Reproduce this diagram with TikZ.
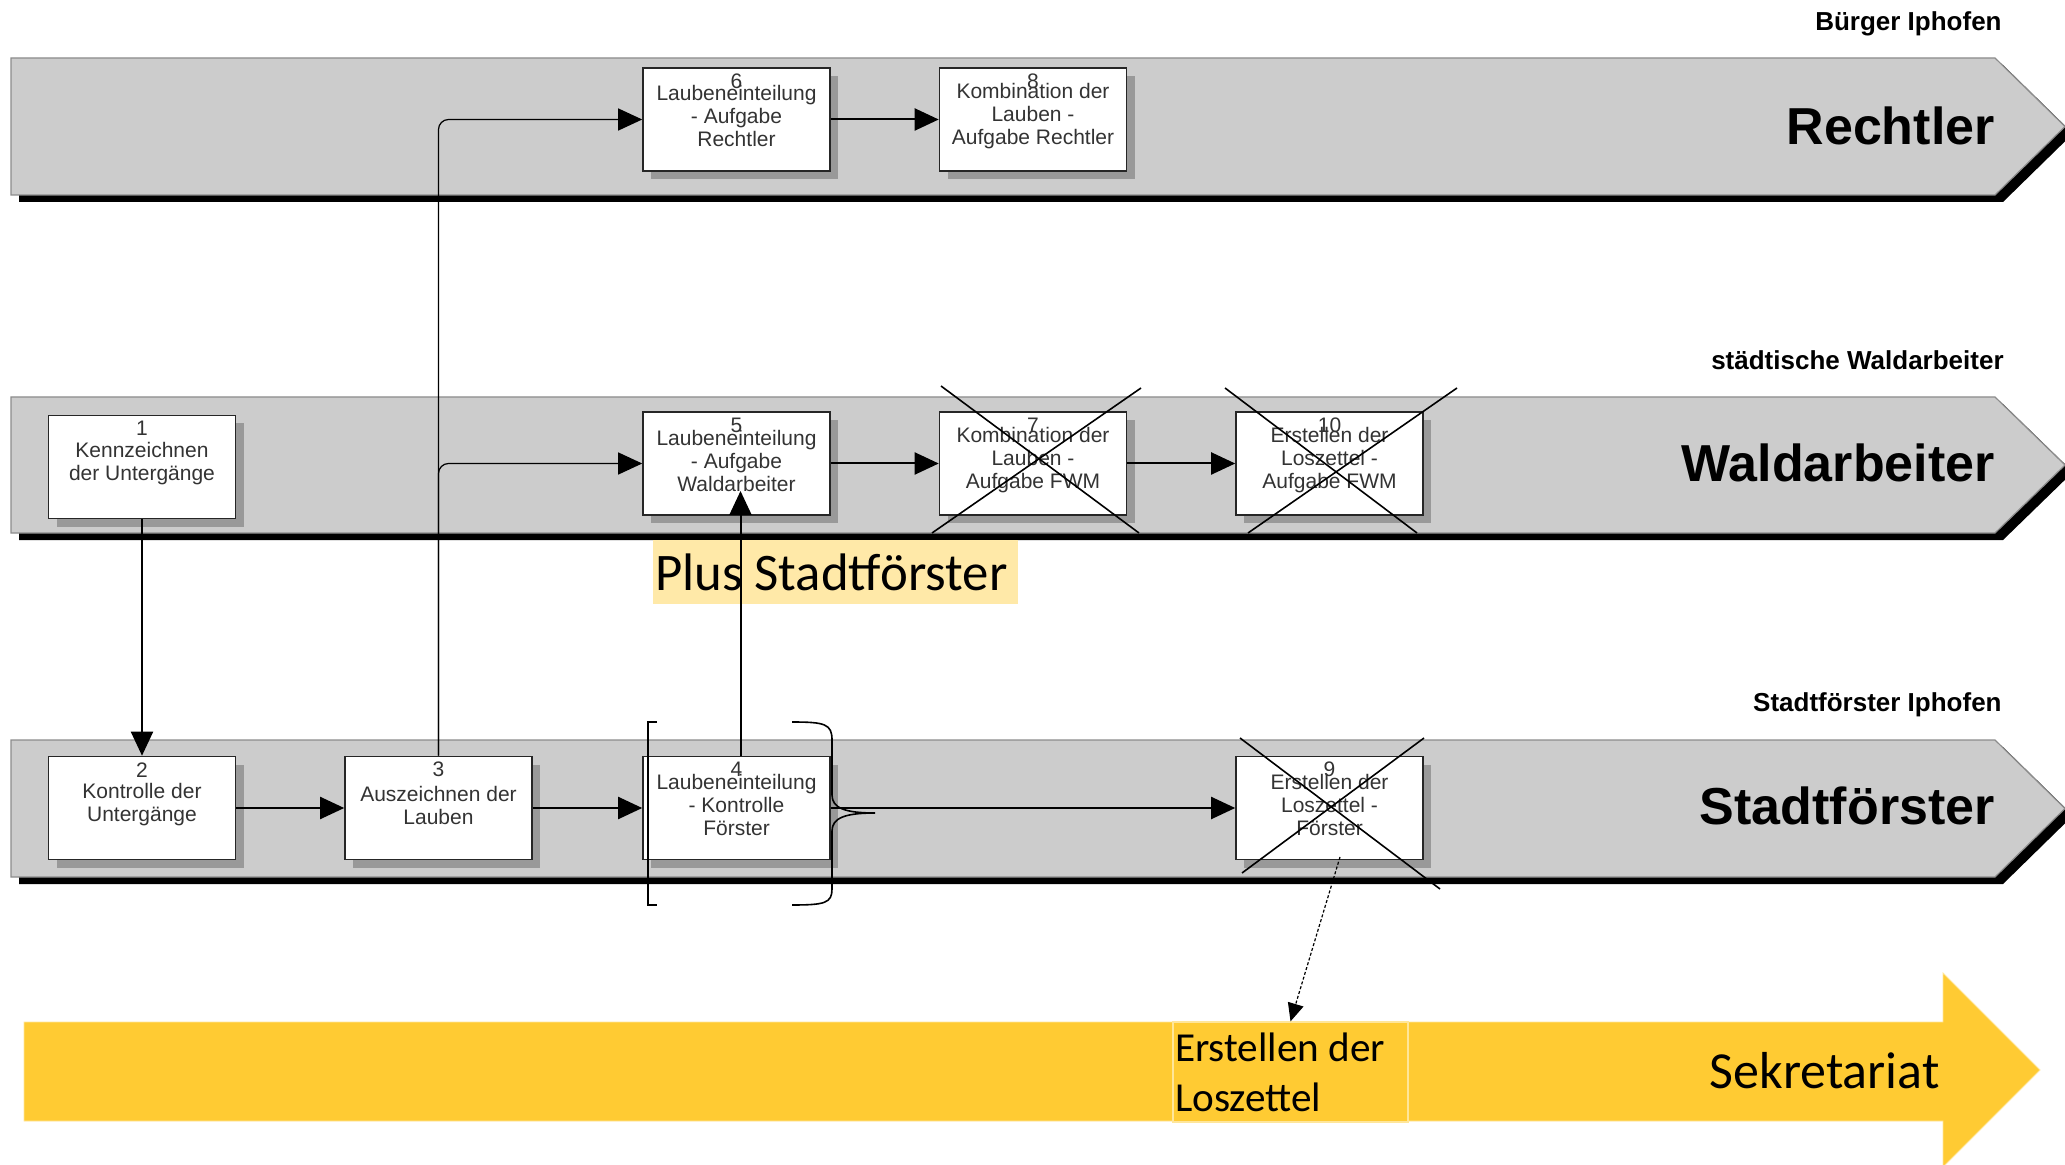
\documentclass[tikz,border=0pt]{standalone}
\usepackage{fontspec}
\setmainfont{Liberation Sans}
\newfontfamily\calfont{Carlito}
\usetikzlibrary{arrows.meta,shadows}
\definecolor{lanegray}{HTML}{CCCCCC}
\definecolor{laneedge}{HTML}{8C8C8C}
\definecolor{sekyellow}{HTML}{FFCB33}
\definecolor{sekedge}{HTML}{FFE69A}
\definecolor{plusyellow}{HTML}{FFE9A8}
\definecolor{boxtext}{HTML}{333333}
\begin{document}
\begin{tikzpicture}[x=0.5pt,y=-0.5pt,
  lane/.style={fill=lanegray,draw=laneedge,line width=0.6pt},
  laneshadow/.style={fill=black},
  procbox/.style={draw=black!85,line width=0.8pt,fill=white,minimum width=93.5pt,minimum height=51.5pt,inner sep=0pt,
     drop shadow={shadow xshift=4pt,shadow yshift=-4pt,fill=black!40,opacity=1}},
  boxnum/.style={font=\fontsize{10.5}{11.5}\selectfont,text=boxtext,inner sep=0pt},
  boxtxt/.style={font=\fontsize{10.5}{11.5}\selectfont,text=boxtext,align=center,inner sep=0pt},
  flow/.style={line width=1pt,-{Triangle[length=12pt,width=11pt]}},
  thinflow/.style={line width=0.6pt,rounded corners=5pt,-{Triangle[length=12pt,width=11pt]}},
  dotflow/.style={line width=0.6pt,dash pattern=on 1.5pt off 1pt,-{Triangle[length=9pt,width=8pt]}},
  crossline/.style={line width=0.8pt,black},
  bracket/.style={line width=0.8pt,black},
  lanename/.style={font=\bfseries\fontsize{26}{30}\selectfont,anchor=east,inner sep=0pt},
  lanetitle/.style={font=\bfseries\fontsize{13}{15}\selectfont,anchor=east,inner sep=0pt},
  calbox/.style={font=\calfont\fontsize{26}{30}\selectfont,inner sep=0pt}
]
\useasboundingbox (0,0) rectangle (2065,1165);
\fill[white] (0,0) rectangle (2065,1165);

% lanes with shadows
\fill[laneshadow,shift={(8,7)}] (11,58) -- (1995,58) -- (2065,126.5) -- (1995,195) -- (11,195) -- cycle;
\draw[lane] (11,58) -- (1995,58) -- (2065,126.5) -- (1995,195) -- (11,195) -- cycle;
\fill[laneshadow,shift={(8,7)}] (11,397) -- (1995,397) -- (2065,465) -- (1995,533) -- (11,533) -- cycle;
\draw[lane] (11,397) -- (1995,397) -- (2065,465) -- (1995,533) -- (11,533) -- cycle;
\fill[laneshadow,shift={(8,7)}] (11,740) -- (1995,740) -- (2065,808.5) -- (1995,877) -- (11,877) -- cycle;
\draw[lane] (11,740) -- (1995,740) -- (2065,808.5) -- (1995,877) -- (11,877) -- cycle;

% lane titles
\node[lanetitle] (lt1) at (2002,24) {Bürger Iphofen};
\node[lanetitle] (lt2) at (2004,360) {städtische Waldarbeiter};
\node[lanetitle] (lt3) at (2002,705) {Stadtförster Iphofen};
\node[lanename] (ln1) at (1995,126) {Rechtler};
\node[lanename] (ln2) at (1995,463) {Waldarbeiter};
\node[lanename] (ln3) at (1995,806) {Stadtförster};

% yellow Sekretariat arrow
\draw[fill=sekyellow,draw=sekedge,line width=0.4pt] (24,1022) -- (1943,1022) -- (1943,973) -- (2040,1070) -- (1943,1167) -- (1943,1121) -- (24,1121) -- cycle;
\node[calbox,anchor=base east] (sek) at (1940,1088) {Sekretariat};
\node[fill=sekyellow,draw=sekedge,line width=0.6pt,minimum width=117.5pt,minimum height=50pt,inner xsep=1pt,inner ysep=0pt,
      text width=115.5pt,align=flush left,font=\calfont\fontsize{20.6}{25}\selectfont] (lz) at (1290.5,1072) {Erstellen der\\Loszettel};

% process boxes
\node[procbox] (b1) at (142,467) {};
\node[procbox] (b2) at (142,808) {};
\node[procbox] (b3) at (438.5,808) {};
\node[procbox] (b4) at (736.5,808) {};
\node[procbox] (b5) at (736.5,463.5) {};
\node[procbox] (b6) at (736.5,119.5) {};
\node[procbox] (b7) at (1033,463.5) {};
\node[procbox] (b8) at (1033,119.5) {};
\node[procbox] (b10) at (1329.5,463.5) {};
\node[procbox] (b9) at (1329.5,808) {};

\node[boxnum] (n1) at ([yshift=-7pt]b1.north) {1};
\node[boxtxt] (t1) at ([yshift=1.5pt]b1.center) {Kennzeichnen\\der Untergänge};
\node[boxnum] (n2) at ([yshift=-7pt]b2.north) {2};
\node[boxtxt] (t2) at ([yshift=1.5pt]b2.center) {Kontrolle der\\Untergänge};
\node[boxnum] (n3) at ([yshift=-7pt]b3.north) {3};
\node[boxtxt] (t3) at ([yshift=1.5pt]b3.center) {Auszeichnen der\\Lauben};
\node[boxnum] (n4) at ([yshift=-7pt]b4.north) {4};
\node[boxtxt] (t4) at ([yshift=1.5pt]b4.center) {Laubeneinteilung\\- Kontrolle\\Förster};
\node[boxnum] (n5) at ([yshift=-7pt]b5.north) {5};
\node[boxtxt] (t5) at ([yshift=1.5pt]b5.center) {Laubeneinteilung\\- Aufgabe\\Waldarbeiter};
\node[boxnum] (n6) at ([yshift=-7pt]b6.north) {6};
\node[boxtxt] (t6) at ([yshift=1.5pt]b6.center) {Laubeneinteilung\\- Aufgabe\\Rechtler};
\node[boxnum] (n7) at ([yshift=-7pt]b7.north) {7};
\node[boxtxt] (t7) at ([yshift=1.5pt]b7.center) {Kombination der\\Lauben -\\Aufgabe FWM};
\node[boxnum] (n8) at ([yshift=-7pt]b8.north) {8};
\node[boxtxt] (t8) at ([yshift=1.5pt]b8.center) {Kombination der\\Lauben -\\Aufgabe Rechtler};
\node[boxnum] (n9) at ([yshift=-7pt]b9.north) {9};
\node[boxtxt] (t9) at ([yshift=1.5pt]b9.center) {Erstellen der\\Loszettel -\\Förster};
\node[boxnum] (n10) at ([yshift=-7pt]b10.north) {10};
\node[boxtxt] (t10) at ([yshift=1.5pt]b10.center) {Erstellen der\\Loszettel -\\Aufgabe FWM};

% connectors
\draw[flow] (b1) -- (b2);
\draw[flow] (b2) -- (b3);
\draw[flow] (b3) -- (b4);
\draw[flow] (b4) -- (b9);
\draw[flow] (b6) -- (b8);
\draw[flow] (b5) -- (b7);
\draw[flow] (b7) -- (b10);
\draw[thinflow] (b3.north) |- (b6.west);
\draw[thinflow] (b3.north) |- (b5.west);

% Plus Stadtfoerster label
\node[calbox,font=\calfont\fontsize{26.4}{30}\selectfont,fill=plusyellow,minimum width=182.5pt,minimum height=32pt,inner xsep=1pt,text width=180.5pt,align=flush left] (plus) at (835.5,572) {Plus Stadtförster};

\coordinate (c4) at (740.5,756);
\coordinate (c45) at (740.5,491);
\draw[flow] (c4) -- (c45);

\coordinate (d9) at (1340,857);
\draw[dotflow] (d9) -- (lz.north);

% brackets around box 4
\draw[bracket] (657,722) -- (648,722) -- (648,905) -- (657,905);
\draw[bracket] (792,722) .. controls (825,722) and (832,724) .. (832,740) -- (832,795)
  .. controls (832,808) and (845,813) .. (875,813)
  .. controls (845,813) and (832,818) .. (832,831) -- (832,889)
  .. controls (832,903) and (825,905) .. (792,905);

% crosses
\draw[crossline] (941,386) -- (1139,533);
\draw[crossline] (1141,388) -- (932,533);
\draw[crossline] (1225,388) -- (1417,533);
\draw[crossline] (1457,388) -- (1248,533);
\draw[crossline] (1240,738) -- (1440,889);
\draw[crossline] (1424,738) -- (1242,873);
\end{tikzpicture}
\end{document}
